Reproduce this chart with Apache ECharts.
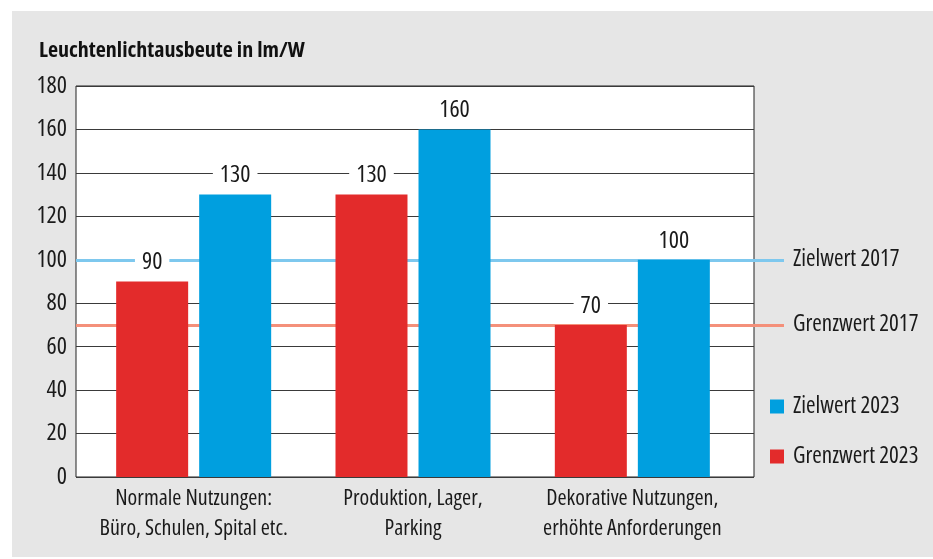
<!DOCTYPE html>
<html>
<head>
<meta charset="utf-8">
<script src="https://cdn.jsdelivr.net/npm/echarts@6/dist/echarts.min.js"></script>
<style>
html,body{margin:0;padding:0;background:#fff;}
#bg{position:absolute;left:12px;top:11px;width:921px;height:546px;background:#e6e6e6;}
#chart{position:absolute;left:0;top:0;width:933px;height:559px;}
</style>
</head>
<body>
<div id="bg"></div>
<div id="chart"></div>
<script>
const categories = ['Normale Nutzungen:\nBüro, Schulen, Spital etc.', 'Produktion, Lager,\nParking', 'Dekorative Nutzungen,\nerhöhte Anforderungen'];
const grenzwert2023 = [90, 130, 70];
const zielwert2023 = [130, 160, 100];
const referenceNames = ['Zielwert 2017', 'Grenzwert 2017'];
const referenceValues = [100, 70];
const yMin = 0, yMax = 180, yStep = 20;
const titleText = 'Leuchtenlichtausbeute in lm/W';

const FONT = "'Open Sans', 'Roboto', sans-serif";
const COND = 'condensed';
const TXT = '#1a1a1a';
const refColors = ['#7ec8ee', '#f4907a'];

const chart = echarts.init(document.getElementById('chart'), null, {renderer: 'canvas'});

const barLabel = {
  show: true, position: 'top', distance: 6,
  fontFamily: FONT, fontWeight: COND, fontSize: 24, color: TXT, lineHeight: 22,
  backgroundColor: '#fff', padding: [2, 7]
};

chart.setOption({
  animation: false,
  backgroundColor: 'transparent',
  textStyle: {fontFamily: FONT, fontWeight: COND},
  title: {
    text: titleText, left: 39, top: 40, padding: [0, 0, 0, 0],
    textStyle: {fontFamily: FONT, fontWeight: 'bold condensed', fontSize: 22, color: '#111'}
  },
  legend: {
    data: ['Zielwert 2023', 'Grenzwert 2023'],
    orient: 'vertical', left: 765, top: 390,
    itemWidth: 14, itemHeight: 14, itemGap: 27, icon: 'rect',
    textStyle: {fontFamily: FONT, fontWeight: COND, fontSize: 23, color: TXT, lineHeight: 20, padding: [0, 0, 0, 4]}
  },
  grid: [
    {left: 76, top: 86, width: 678, height: 391, show: true, backgroundColor: '#fff', borderColor: '#222', borderWidth: 1},
    {left: 84, top: 86, width: 658, height: 391},
    {left: 76, top: 86, width: 708, height: 391}
  ],
  xAxis: [
    {gridIndex: 0, type: 'category', data: categories, show: false},
    {gridIndex: 1, type: 'category', data: categories,
     axisLine: {show: false}, axisTick: {show: false},
     axisLabel: {fontFamily: FONT, fontWeight: COND, fontSize: 22, color: TXT, lineHeight: 30, margin: 7, interval: 0}},
    {gridIndex: 2, type: 'value', min: 0, max: 1, show: false}
  ],
  yAxis: [
    {gridIndex: 0, type: 'value', min: yMin, max: yMax, interval: yStep,
     axisLine: {show: false}, axisTick: {show: false},
     axisLabel: {fontFamily: FONT, fontWeight: COND, fontSize: 24, color: TXT, margin: 9},
     splitLine: {lineStyle: {color: '#3a3a3a', width: 1}}},
    {gridIndex: 1, type: 'value', min: yMin, max: yMax, interval: yStep, show: false, splitLine: {show: false}},
    {gridIndex: 2, type: 'value', min: yMin, max: yMax, interval: yStep, show: false, splitLine: {show: false}}
  ],
  series: [
    {
      type: 'line', xAxisIndex: 2, yAxisIndex: 2, data: [], z: 1, silent: true,
      markLine: {
        z: 1, silent: true, symbol: ['none', 'none'], animation: false,
        data: referenceValues.map((v, i) => ({
          name: referenceNames[i], yAxis: v,
          lineStyle: {color: refColors[i], width: 3, type: 'solid'}
        })),
        label: {show: true, position: 'end', distance: 9, formatter: '{b}',
                fontFamily: FONT, fontWeight: COND, fontSize: 23, color: TXT}
      }
    },
    {
      name: 'Grenzwert 2023', type: 'bar', xAxisIndex: 1, yAxisIndex: 1,
      data: grenzwert2023, barWidth: 72, barGap: '15.3%', z: 2,
      itemStyle: {color: '#e32b2b'}, label: barLabel
    },
    {
      name: 'Zielwert 2023', type: 'bar', xAxisIndex: 1, yAxisIndex: 1,
      data: zielwert2023, barWidth: 72, z: 2,
      itemStyle: {color: '#009fdf'}, label: barLabel
    }
  ]
});
</script>
</body>
</html>
